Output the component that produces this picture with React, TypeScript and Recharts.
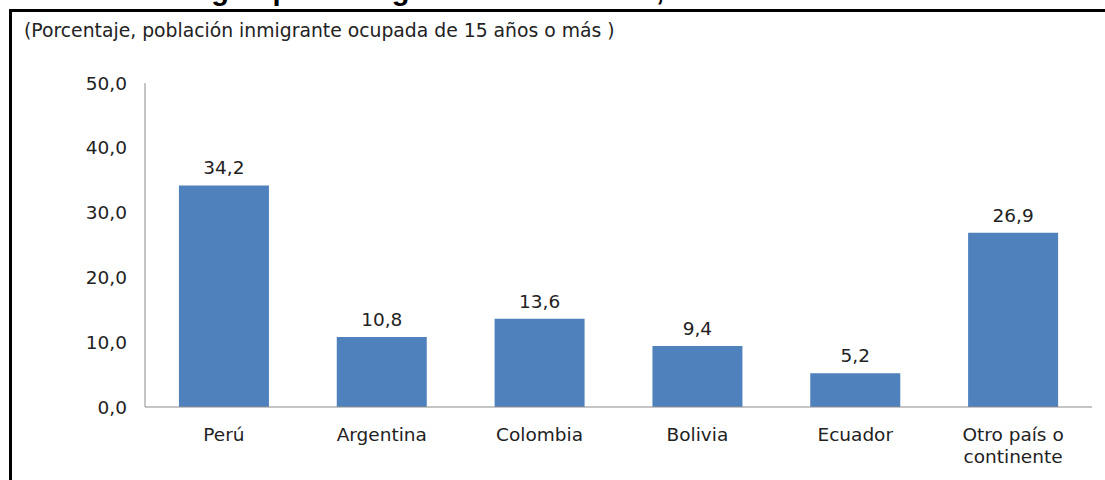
import { BarChart, Bar, XAxis, YAxis, LabelList } from 'recharts'

const categories = ['Perú', 'Argentina', 'Colombia', 'Bolivia', 'Ecuador', 'Otro país o continente']
const shares = [34.2, 10.8, 13.6, 9.4, 5.2, 26.9]
const yTicks = [0, 10, 20, 30, 40, 50]

const title = 'según país o región de nacimiento, durante el año 2016'
const subtitle = '(Porcentaje, población inmigrante ocupada de 15 años o más )'

const data = categories.map((name, i) => ({ name, value: shares[i] }))

const FONT = '"DejaVu Sans", Verdana, sans-serif'
const FS = 18.5
const fmt = (v: number) => v.toFixed(1).replace('.', ',')

function wrap(text: string, max: number) {
  const lines: string[] = []
  let cur = ''
  for (const w of text.split(' ')) {
    const next = cur ? cur + ' ' + w : w
    if (next.length > max && cur) {
      lines.push(cur)
      cur = w
    } else cur = next
  }
  if (cur) lines.push(cur)
  return lines
}

function CategoryTick(props: any) {
  const { x, y, payload } = props
  const lines = wrap(payload.value, 12)
  return (
    <text x={x} y={y} textAnchor="middle" fill="#222" fontFamily={FONT} fontSize={FS}>
      {lines.map((l, i) => (
        <tspan key={i} x={x} dy={i === 0 ? 26 : 22}>
          {l}
        </tspan>
      ))}
    </text>
  )
}

export default function App() {
  return (
    <div
      style={{
        position: 'absolute',
        left: 0,
        top: 0,
        width: 1105,
        height: 480,
        background: '#fff',
        overflow: 'hidden',
      }}
    >
      <div
        style={{
          position: 'absolute',
          left: 0,
          width: 1122,
          top: -26,
          textAlign: 'center',
          fontFamily: '"Liberation Sans", Arial, sans-serif',
          fontWeight: 'bold',
          fontSize: 29,
          lineHeight: '32px',
          color: '#000',
          whiteSpace: 'nowrap',
        }}
      >
        {title}
      </div>
      <div
        style={{
          position: 'absolute',
          left: 9,
          top: 9,
          width: 1200,
          height: 600,
          borderTop: '3px solid #000',
          borderLeft: '3px solid #000',
        }}
      />
      <div
        style={{
          position: 'absolute',
          left: 24,
          top: 20,
          fontFamily: FONT,
          fontSize: 18.8,
          color: '#222',
          whiteSpace: 'nowrap',
        }}
      >
        {subtitle}
      </div>
      <div style={{ position: 'absolute', left: 0, top: 0 }}>
        <BarChart
          width={1105}
          height={480}
          data={data}
          margin={{ top: 83, right: 13, bottom: 13, left: 0 }}
          barCategoryGap="21.5%"
        >
          <XAxis
            dataKey="name"
            axisLine={{ stroke: '#8c8c8c' }}
            tickLine={false}
            tick={<CategoryTick />}
            interval={0}
            height={60}
          />
          <YAxis
            domain={[0, 50]}
            ticks={yTicks}
            tickFormatter={fmt}
            axisLine={{ stroke: '#8c8c8c' }}
            tickLine={false}
            tickMargin={12}
            width={145}
            tick={{ fill: '#222', fontFamily: FONT, fontSize: FS }}
          />
          <Bar dataKey="value" fill="#4f81bd" isAnimationActive={false}>
            <LabelList
              dataKey="value"
              position="top"
              offset={11}
              formatter={(v: any) => fmt(Number(v))}
              style={{ fill: '#222', fontFamily: FONT, fontSize: FS }}
            />
          </Bar>
        </BarChart>
      </div>
    </div>
  )
}
